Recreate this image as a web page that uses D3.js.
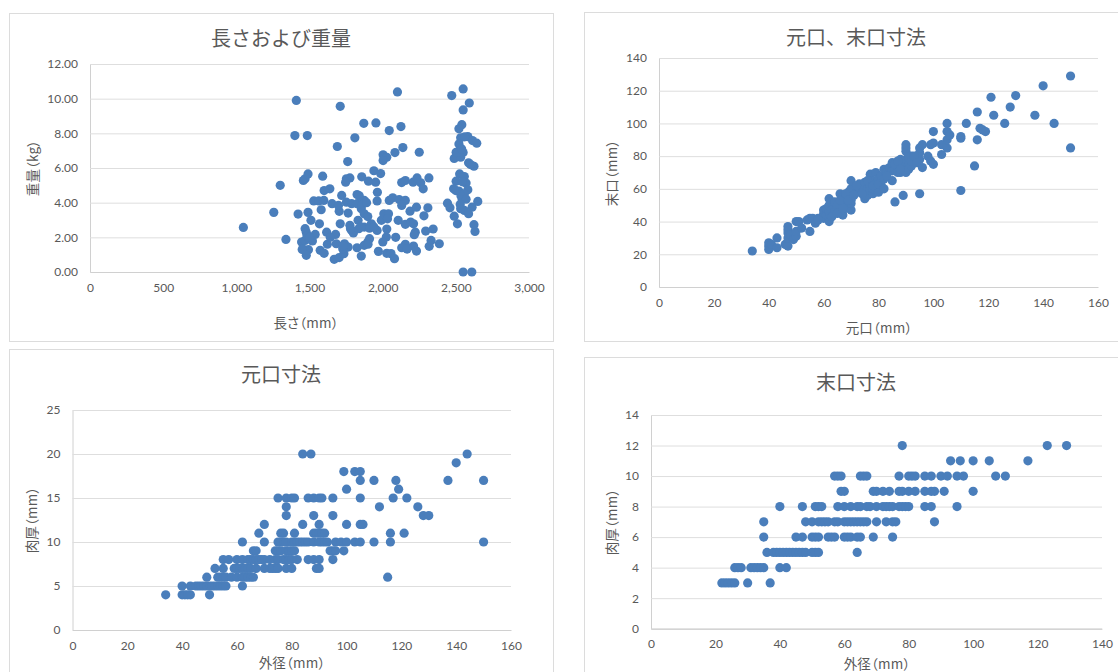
<!DOCTYPE html>
<html>
<head>
<meta charset="utf-8">
<script src="https://cdn.jsdelivr.net/npm/d3@7"></script>
<style>
  html, body { margin: 0; padding: 0; background: #fff; }
  svg { display: block; }
  text { font-family: "Lato", "Noto Sans CJK JP", sans-serif; fill: #595959; }
  .cjk { font-family: "Noto Sans CJK JP", sans-serif; }
  .axis-label { font-feature-settings: "palt"; letter-spacing: 0.2px; }
</style>
</head>
<body>
<svg id="chart" width="1118" height="672"></svg>
<script>
// tick labels
const lengthTicks = [0, 500, 1000, 1500, 2000, 2500, 3000];
const weightTicks = [0, 2, 4, 6, 8, 10, 12];
const baseTicks = [0, 20, 40, 60, 80, 100, 120, 140, 160];
const topTicks = [0, 20, 40, 60, 80, 100, 120, 140];
const baseThickTicks = [0, 5, 10, 15, 20, 25];
const topThickTicks = [0, 2, 4, 6, 8, 10, 12, 14];

// length (mm), weight (kg)
const lengthWeight = [
  [1048,2.57],[1256,3.44],[1300,5.0],[1339,1.88],[1410,9.9],[1400,7.87],[1485,7.87],[1422,3.34],[1490,3.44],[1510,2.98],
  [1470,2.5],[1478,2.3],[1458,5.28],[1470,5.38],[1490,5.66],[1446,1.73],[1470,1.82],[1495,1.92],[1520,1.79],[1539,2.17],
  [1483,2.1],[1463,1.29],[1493,1.29],[1478,0.96],[1529,4.1],[1563,4.1],[1598,4.13],[1580,3.59],[1568,2.78],[1590,5.53],
  [1600,4.7],[1639,4.8],[1654,3.94],[1573,1.25],[1600,1.08],[1617,2.3],[1622,1.6],[1678,2.17],[1683,1.63],[1642,2.0],
  [1669,0.73],[1703,0.83],[1735,1.06],[1739,1.63],[1764,1.44],[1727,1.34],[1710,2.78],[1703,3.5],[1698,3.84],[1720,4.42],
  [1752,4.03],[1764,3.4],[1788,3.94],[1690,7.24],[1710,9.56],[1761,6.37],[1810,7.74],[1871,8.58],[1954,8.6],[2045,8.16],
  [2125,8.39],[2101,10.39],[2138,7.18],[2084,6.89],[2250,6.91],[2003,6.76],[2028,6.62],[2003,6.43],[1940,5.84],[1986,5.68],
  [1952,5.18],[1903,5.24],[1857,5.49],[1776,5.43],[1752,5.38],[1747,5.18],[1964,4.6],[1962,4.1],[1825,4.47],[1874,4.13],
  [1825,3.94],[1854,3.65],[1874,3.36],[1898,3.2],[1832,2.98],[1776,2.69],[1788,2.4],[1800,2.25],[1837,2.5],[1874,2.59],
  [1923,2.78],[1910,2.53],[1962,2.4],[1825,1.4],[1854,0.92],[1874,1.54],[1898,1.73],[1910,1.92],[1971,1.19],[2028,1.08],
  [2057,1.06],[2081,0.77],[2089,2.0],[2025,2.02],[2001,1.73],[2028,2.48],[1991,2.98],[2008,3.36],[2040,3.36],[2033,3.07],
  [2106,2.98],[2155,2.75],[2191,2.88],[2211,2.78],[2187,3.51],[2231,3.74],[2309,3.7],[2282,3.24],[2294,2.36],[2345,2.48],
  [2223,2.3],[2216,2.15],[2211,1.5],[2155,1.6],[2130,1.4],[2167,1.32],[2231,1.21],[2318,1.48],[2331,1.82],[2387,1.63],
  [2045,4.13],[2069,4.28],[2113,4.18],[2155,4.13],[2130,3.84],[2130,5.16],[2155,5.28],[2208,5.18],[2235,5.43],[2260,5.15],
  [2277,4.8],[2316,5.43],[2472,10.18],[2550,10.56],[2592,9.75],[2550,9.35],[2541,8.5],[2521,8.26],[2582,7.81],[2533,7.74],
  [2614,7.58],[2643,7.43],[2521,7.39],[2502,6.91],[2550,6.89],[2489,6.55],[2533,6.62],[2587,6.3],[2624,6.1],[2526,5.66],
  [2558,5.51],[2502,5.24],[2570,5.13],[2485,4.8],[2521,4.67],[2582,4.74],[2558,4.51],[2543,4.18],[2443,3.97],[2460,3.7],
  [2650,4.07],[2611,3.74],[2533,3.65],[2558,3.55],[2587,3.36],[2489,3.22],[2511,2.78],[2624,2.73],[2631,2.34],[2550,0],
  [2609,0],[2510,6.9],[2540,7.1],[2560,7.8],[2600,6.2],[2545,5.2],[2535,4.4],[2570,4.2],[2500,4.7],[2530,3.9],
  [1860,3.9],[1890,4.0],[1840,4.4],[1780,2.5],[1900,1.6],[1730,1.5],[1500,2.0],[1450,1.3],[1850,2.6],[1940,2.6]
];

// base diameter (mm), top diameter (mm)
const baseTop = [
  [34,22],[40,23],[40,25],[40,27],[41,26],[43,24],[43,30],[46,26],[47,25],[47,30],[47,33],[47,35],[47,37],[48,32],[49,29],
  [50,31],[50,34],[50,40],[51,40],[52,36],[54,41],[55,34],[55,42],[56,42],[57,39],[58,42],[60,42],[60,45],[60,47],[61,44],
  [61,48],[62,40],[62,46],[62,50],[62,54],[63,47],[64,46],[64,52],[65,48],[66,50],[66,57],[67,44],[67,52],[68,48],[68,55],
  [69,50],[69,58],[70,47],[70,51],[70,53],[70,55],[70,60],[70,65],[72,58],[73,60],[73,63],[74,61],[75,54],[75,58],[75,62],
  [75,64],[76,56],[76,60],[77,59],[77,62],[77,69],[78,57],[78,60],[78,65],[79,63],[79,70],[80,60],[80,66],[81,62],[81,68],
  [82,72],[83,70],[84,73],[85,65],[85,71],[85,76],[86,52],[86,72],[87,70],[87,74],[88,70],[88,75],[88,78],[89,56],[89,71],
  [89,77],[90,70],[90,74],[90,78],[90,83],[90,85],[90,87],[91,76],[92,80],[93,78],[94,80],[95,57],[95,78],[95,82],[95,85],
  [96,73],[96,87],[98,80],[99,77],[100,75],[99,87],[100,88],[100,95],[103,81],[103,87],[105,85],[105,90],[105,95],[105,100],
  [106,93],[110,59],[110,91],[110,92],[112,100],[115,74],[116,90],[116,107],[117,97],[118,96],[119,95],[121,116],[122,105],
  [126,100],[128,110],[130,117],[137,105],[140,123],[144,100],[150,85],[150,129],
  [86,75],[87,77],[88,72],[91,72],[91,79],[92,74],[92,77],[93,80],[94,76],[72,62],[74,57],[76,65],[78,62],[80,58],[80,63],
  [82,66],[83,68],[82,60],[58,41],[63,43],[65,50],[65,45],[66,53],[67,48],[68,57],[69,53],[71,56]
];

// wall thickness rows for the base panel: thickness, then outer diameters
const baseThick = [4, 5, 6, 7, 8, 9, 10, 11, 12, 13, 14, 15, 16, 17, 18, 19, 20];
const baseOuter = [
  [34,40,41,42,43,50],
  [40,43,45,46,47,48,49,50,51,52,53,54,55,56,62],
  [49,53,54,55,56,58,60,62,63,64,65,66,115],
  [52,55,59,60,61,62,63,64,65,67,70,72,73,74,75,78,80,89,90],
  [55,57,60,62,64,65,66,67,68,69,70,72,74,75,77,78,79,80,82,86,88,90,95],
  [66,67,74,75,76,78,79,80,81,94,95,96,99],
  [62,70,75,76,77,78,80,81,82,83,84,85,86,88,90,91,92,93,96,98,100,103,105,110,116,150],
  [68,76,77,81,88,89,90,91,92,116,121],
  [70,84,90,100,105,106],
  [78,88,95,128,130],
  [78,112,126],
  [75,78,80,81,86,88,90,91,95,105,117,122],
  [100,119],
  [105,110,118,137,150],
  [99,103,105],
  [140],
  [84,87,144]
];

// same for the top panel
const topThick = [3, 4, 5, 6, 7, 8, 9, 10, 11, 12];
const topOuter = [
  [22,23,24,25,26,30,37],
  [26,27,28,31,32,33,34,35,40,42],
  [36,38,39,40,41,42,43,44,45,46,47,48,50,51,52,64],
  [35,45,47,50,51,52,55,56,57,60,61,62,64,65,69,75],
  [35,48,50,52,53,54,55,57,58,60,61,62,63,64,65,66,67,70,73,75,76,88],
  [40,47,51,52,53,58,60,62,64,65,67,68,70,72,73,74,75,77,78,79,80,85,87,95],
  [59,60,69,70,72,74,77,78,80,82,85,87,88,91,100],
  [57,58,59,65,66,67,77,80,81,82,85,87,90,92,95,97,107,110],
  [93,96,100,105,117],
  [78,123,129]
];

const rows = (thick, outer) => outer.flatMap((xs, i) => xs.map(x => [x, thick[i]]));

const DOT = "#4a7ebb";
const GRID = "#dedede";
const AXIS = "#d0d0d0";
const BORDER = "#dcdcdc";

const svg = d3.select("#chart");

const panels = [
  { box: [9, 13, 544, 328], x0: 90, x1: 529, y0: 272, y1: 64,
    xMax: 3000, yMax: 12, xTicks: lengthTicks, yTicks: weightTicks,
    xFmt: d3.format(","), yFmt: d3.format(".2f"), points: lengthWeight,
    title: "長さおよび重量", titleX: 281, titleY: 46,
    xLabel: "長さ（mm）", xLabelX: 306, xLabelY: 328, yLabel: "重量（kg）", yLabelX: 33, yLabelY: 168 },
  { box: [584, 12, 560, 329], x0: 659, x1: 1098, y0: 287, y1: 58,
    xMax: 160, yMax: 140, xTicks: baseTicks, yTicks: topTicks,
    xFmt: d3.format("d"), yFmt: d3.format("d"), points: baseTop,
    title: "元口、末口寸法", titleX: 856, titleY: 45,
    xLabel: "元口（mm）", xLabelX: 879, xLabelY: 333, yLabel: "末口（mm）", yLabelX: 612, yLabelY: 173 },
  { box: [9, 349, 544, 340], x0: 72.5, x1: 511, y0: 630, y1: 410,
    xMax: 160, yMax: 25, xTicks: baseTicks, yTicks: baseThickTicks,
    xFmt: d3.format("d"), yFmt: d3.format("d"), points: rows(baseThick, baseOuter),
    title: "元口寸法", titleX: 281, titleY: 382,
    xLabel: "外径（mm）", xLabelX: 292, xLabelY: 668, yLabel: "肉厚（mm）", yLabelX: 32, yLabelY: 520 },
  { box: [584, 357, 560, 340], x0: 651, x1: 1102, y0: 628.7, y1: 415,
    xMax: 140, yMax: 14, xTicks: topTicks, yTicks: topThickTicks,
    xFmt: d3.format("d"), yFmt: d3.format("d"), points: rows(topThick, topOuter),
    title: "末口寸法", titleX: 856, titleY: 390,
    xLabel: "外径（mm）", xLabelX: 877, xLabelY: 669, yLabel: "肉厚（mm）", yLabelX: 612, yLabelY: 522 }
];

panels.forEach(p => {
  const g = svg.append("g");

  // chart frame
  g.append("rect")
    .attr("x", p.box[0] + 0.5).attr("y", p.box[1] + 0.5)
    .attr("width", p.box[2]).attr("height", p.box[3])
    .attr("fill", "#fff").attr("stroke", BORDER);

  const x = d3.scaleLinear().domain([0, p.xMax]).range([p.x0, p.x1]);
  const y = d3.scaleLinear().domain([0, p.yMax]).range([p.y0, p.y1]);

  // gridlines and axes
  g.append("g")
    .attr("transform", `translate(${p.x0},0)`)
    .call(d3.axisLeft(y).tickValues(p.yTicks).tickSize(-(p.x1 - p.x0)).tickPadding(12).tickFormat(p.yFmt))
    .call(a => a.select(".domain").attr("stroke", AXIS))
    .call(a => a.selectAll(".tick line").attr("stroke", GRID))
    .call(a => a.selectAll("text").attr("font-size", 12).style("font-family", "Lato"));

  g.append("g")
    .attr("transform", `translate(0,${p.y0})`)
    .call(d3.axisBottom(x).tickValues(p.xTicks).tickSize(0).tickPadding(11).tickFormat(p.xFmt))
    .call(a => a.select(".domain").attr("stroke", AXIS))
    .call(a => a.selectAll("text").attr("font-size", 12).style("font-family", "Lato"));

  // points
  g.append("g").selectAll("circle")
    .data(p.points)
    .join("circle")
    .attr("cx", d => x(d[0]))
    .attr("cy", d => y(d[1]))
    .attr("r", 4.6)
    .attr("fill", DOT);

  // titles
  g.append("text")
    .attr("class", "cjk")
    .attr("x", p.titleX).attr("y", p.titleY)
    .attr("text-anchor", "middle")
    .attr("font-size", 20)
    .text(p.title);

  g.append("text")
    .attr("class", "cjk axis-label")
    .attr("x", p.xLabelX).attr("y", p.xLabelY)
    .attr("text-anchor", "middle")
    .attr("font-size", 13.5)
    .text(p.xLabel);

  g.append("text")
    .attr("class", "cjk axis-label")
    .attr("transform", `translate(${p.yLabelX},${p.yLabelY}) rotate(-90)`)
    .attr("text-anchor", "middle")
    .attr("dy", "0.35em")
    .attr("font-size", 13.5)
    .text(p.yLabel);
});
</script>
</body>
</html>
